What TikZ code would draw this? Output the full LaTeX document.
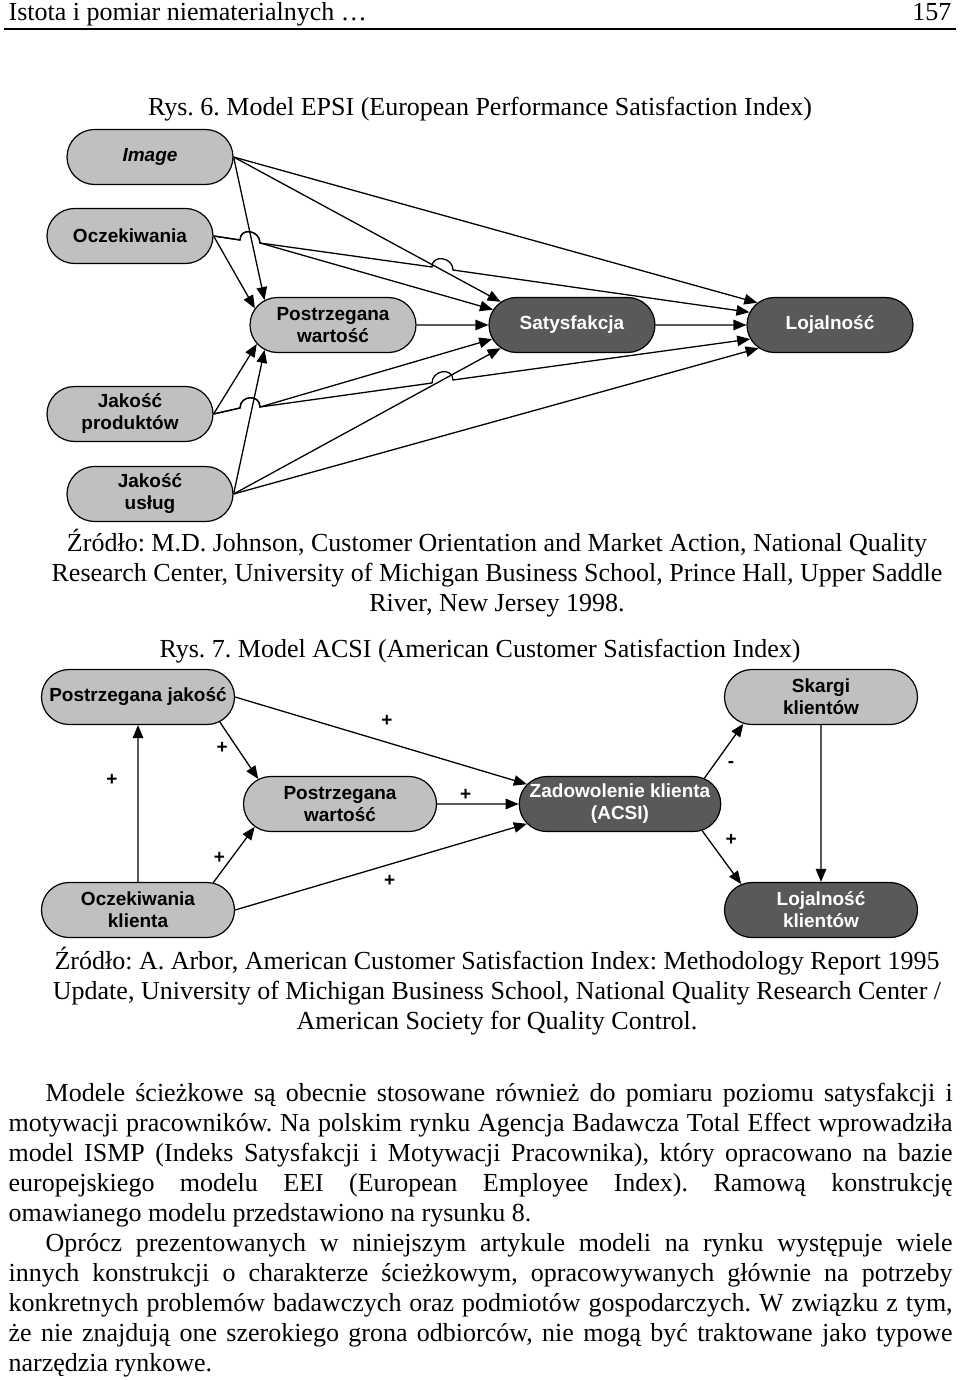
\documentclass[tikz,border=0pt]{standalone}
\usepackage{fontspec}
\setmainfont{Liberation Serif}
\setsansfont{Liberation Sans}
\usetikzlibrary{arrows.meta,shapes.misc}
\frenchspacing

\definecolor{lightbox}{HTML}{C0C0C0}
\definecolor{darkbox}{HTML}{595959}

\tikzset{
  pill/.style={rounded rectangle,draw=black,line width=1.2pt,fill=lightbox,
    minimum width=170pt,minimum height=55pt,inner sep=2pt,align=center,
    font=\sffamily\bfseries\fontsize{19}{22}\selectfont},
  darkpill/.style={pill,fill=darkbox,text=white},
  wide/.style={minimum width=197pt},
  txt/.style={inner sep=0pt,font=\fontsize{26}{30}\selectfont},
  sign/.style={inner sep=0pt,font=\sffamily\bfseries\fontsize{19}{19}\selectfont},
  hop/.style={to path={.. controls +(0,-13) and +(0,-13) .. (\tikztotarget)}}
}

\begin{document}
\begin{tikzpicture}[x=1pt,y=-1pt,>={Triangle[length=13pt,width=10.5pt]},line width=1.3pt]
\useasboundingbox (0,0) rectangle (960,1380);

% page header
\node[txt,anchor=base west] (head) at (8,21) {Istota i pomiar niematerialnych …};
\node[txt,anchor=base east] (page) at (952,21) {157};
\draw[line width=2pt] (4,29.5) -- (956,29.5);

\node[txt,anchor=base] (cap6) at (480,116) {Rys. 6. Model EPSI (European Performance Satisfaction Index)};

% EPSI
\node[pill] (img) at (150,157) {\itshape Image};
\node[pill] (ocz) at (130,236) {Oczekiwania};
\node[pill] (pw) at (333,325) {Postrzegana\\wartość};
\node[darkpill] (sat) at (572,325) {Satysfakcja};
\node[darkpill] (loj) at (830,325) {Lojalność};
\node[pill] (jp) at (130,414) {Jakość\\produktów};
\node[pill] (ju) at (150,494) {Jakość\\usług};

\foreach \src/\a/\b/\c in {img/160/162/163, ju/200/198/198}{
    \draw[->] (\src.east) -- (pw.\a);
    \draw[->] (\src.east) -- (sat.\b);
    \draw[->] (\src.east) -- (loj.\c);
}
\draw[->] (ocz.east) -- (pw.168);
\draw[->] (jp.east) -- (pw.194);
\draw[->] (pw) -- (sat);
\draw[->] (sat) -- (loj);

% line hops
\coordinate (ocA) at (240,240);
\coordinate (ocB) at (260,243);
\coordinate (ocC) at (432,267);
\coordinate (ocD) at (453,270);
\coordinate (jpA) at (240,408);
\coordinate (jpB) at (260,407);
\coordinate (jpC) at (432,383);
\coordinate (jpD) at (453,380);
\draw[->] (ocz.east) -- (ocA) to[hop] (ocB) -- (sat.169);
\draw[->] (ocz.east) -- (ocA) to[hop] (ocB) -- (ocC) to[hop] (ocD) -- (loj.171);
\draw[->] (jp.east) -- (jpA) to[hop] (jpB) -- (sat.190);
\draw[->] (jp.east) -- (jpA) to[hop] (jpB) -- (jpC) to[hop] (jpD) -- (loj.190);

\node[txt,anchor=base] (src6a) at (497,551) {Źródło: M.D. Johnson, Customer Orientation and Market Action, National Quality};
\node[txt,anchor=base] (src6b) at (497,581) {Research Center, University of Michigan Business School, Prince Hall, Upper Saddle};
\node[txt,anchor=base] (src6c) at (497,611) {River, New Jersey 1998.};

\node[txt,anchor=base] (cap7) at (480,657) {Rys. 7. Model ACSI (American Customer Satisfaction Index)};

% ACSI
\node[pill,wide] (pj) at (138,697) {Postrzegana jakość};
\node[pill,wide] (pwa) at (340,804) {Postrzegana\\wartość};
\node[pill,wide] (ok) at (138,910) {Oczekiwania\\klienta};
\node[darkpill,wide] (zk) at (620,804) {Zadowolenie klienta\\(ACSI)};
\node[pill,wide] (sk) at (821,697) {Skargi\\klientów};
\node[darkpill,wide] (lk) at (821,910) {Lojalność\\klientów};

\draw[->] (ok) -- node[sign,pos=.65,xshift=-26pt] {+} (pj);
\draw[->] (pj.-17) -- node[sign,pos=.45,xshift=-15pt] {+} (pwa.163);
\draw[->] (pj.east) -- node[sign,pos=.52,yshift=21pt] {+} (zk.168);
\draw[->] (ok.20) -- node[sign,pos=.44,xshift=-12pt] {+} (pwa.195);
\draw[->] (ok.east) -- node[sign,pos=.53,yshift=-17pt] {+} (zk.192);
\draw[->] (pwa) -- node[sign,pos=.35,yshift=9pt] {+} (zk);
\draw[->] (zk.17) -- node[sign,pos=.25,xshift=17pt] {-} (sk.199);
\draw[->] (zk.-18) -- node[sign,pos=.18,xshift=22pt] {+} (lk.162);
\draw[->] (sk) -- (lk);

\node[txt,anchor=base] (src7a) at (497,969) {Źródło: A. Arbor, American Customer Satisfaction Index: Methodology Report 1995};
\node[txt,anchor=base] (src7b) at (497,999) {Update, University of Michigan Business School, National Quality Research Center /};
\node[txt,anchor=base] (src7c) at (497,1029) {American Society for Quality Control.};

% body text
\node[txt,anchor=base west] (p1a) at (45,1101) {\makebox[907pt][s]{Modele ścieżkowe są obecnie stosowane również do pomiaru poziomu satysfakcji i}};
\node[txt,anchor=base west] (p1b) at (8,1131) {\makebox[944pt][s]{motywacji pracowników. Na polskim rynku Agencja Badawcza Total Effect wprowadziła}};
\node[txt,anchor=base west] (p1c) at (8,1161) {\makebox[944pt][s]{model ISMP (Indeks Satysfakcji i Motywacji Pracownika), który opracowano na bazie}};
\node[txt,anchor=base west] (p1d) at (8,1191) {\makebox[944pt][s]{europejskiego modelu EEI (European Employee Index). Ramową konstrukcję}};
\node[txt,anchor=base west] (p1e) at (8,1221) {omawianego modelu przedstawiono na rysunku 8.};
\node[txt,anchor=base west] (p2a) at (45,1251) {\makebox[907pt][s]{Oprócz prezentowanych w niniejszym artykule modeli na rynku występuje wiele}};
\node[txt,anchor=base west] (p2b) at (8,1281) {\makebox[944pt][s]{innych konstrukcji o charakterze ścieżkowym, opracowywanych głównie na potrzeby}};
\node[txt,anchor=base west] (p2c) at (8,1311) {\makebox[944pt][s]{konkretnych problemów badawczych oraz podmiotów gospodarczych. W związku z tym,}};
\node[txt,anchor=base west] (p2d) at (8,1341) {\makebox[944pt][s]{że nie znajdują one szerokiego grona odbiorców, nie mogą być traktowane jako typowe}};
\node[txt,anchor=base west] (p2e) at (8,1371) {narzędzia rynkowe.};

\end{tikzpicture}
\end{document}
